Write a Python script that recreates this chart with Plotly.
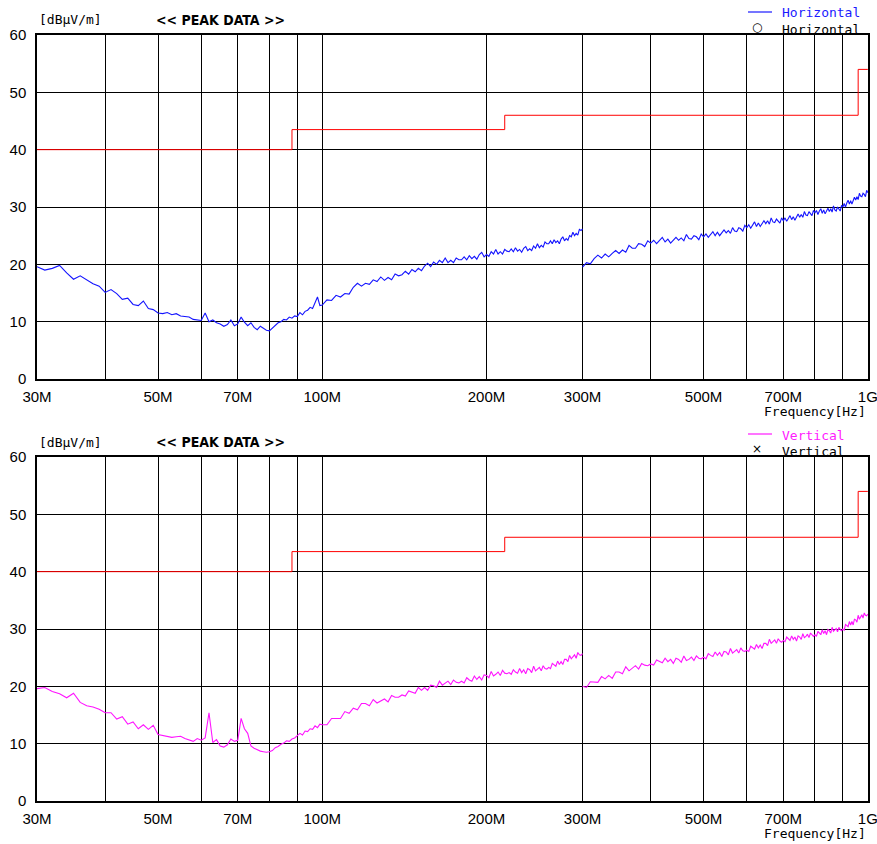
import plotly.graph_objects as go
from plotly.subplots import make_subplots

# ---------------- data (MHz / dBuV/m) ----------------
LIMIT_F = [30, 88, 216, 960, 1000]
LIMIT_DB = [40, 43.5, 46, 54, 54]

# sweep grids
FREQ_A = list(range(30, 101))                      # 30..100 MHz, 1 MHz step
FREQ_B = list(range(100, 301, 2))                  # 100..300 MHz, 2 MHz step
FREQ_C = list(range(300, 1001, 5))                 # 300..1000 MHz, 5 MHz step

H_A = [19.6, 19.0, 19.3, 19.8, 18.5, 17.4, 18.0, 17.3, 16.6, 16.2,
       15.1, 15.6, 14.9, 13.9, 14.1, 13.0, 12.8, 13.6, 12.3, 12.1,
       11.5, 11.4, 11.6, 11.2, 11.4, 11.0, 10.9, 10.8, 10.4, 10.3,
       10.2, 11.5, 10.0, 10.3, 9.8, 9.6, 9.2, 9.5, 10.3, 9.3,
       9.6, 10.8, 9.9, 9.3, 9.8, 9.0, 8.6, 9.2, 8.8, 8.5,
       8.4, 8.9, 9.3, 9.8, 10.0, 10.4, 10.3, 10.8, 10.6, 11.0,
       10.9, 11.6, 11.2, 11.8, 12.0, 12.5, 12.3, 13.2, 14.3, 12.8,
       13.0]
H_B = [12.9, 13.8, 13.7, 14.6, 14.3, 14.9, 14.8, 16.0, 16.7, 16.2,
       16.7, 16.5, 17.3, 17.0, 17.8, 17.2, 17.7, 17.3, 18.3, 18.0,
       18.2, 18.8, 18.3, 19.1, 18.7, 19.3, 18.9, 19.7, 20.2, 19.6,
       20.4, 20.0, 20.7, 20.3, 21.1, 20.3, 20.7, 20.3, 21.1, 20.8,
       20.8, 21.3, 20.8, 21.5, 21.0, 21.4, 20.9, 21.7, 22.1, 21.3,
       21.7, 21.4, 22.2, 21.8, 22.6, 21.8, 22.2, 21.8, 22.6, 22.3,
       22.2, 22.7, 22.2, 22.9, 22.3, 22.6, 22.1, 22.8, 23.1, 22.4,
       22.7, 22.4, 23.2, 22.8, 23.6, 22.9, 23.3, 23.0, 23.9, 23.6,
       23.6, 24.1, 23.6, 24.3, 23.8, 24.1, 23.6, 24.4, 24.8, 24.1,
       24.5, 24.2, 25.0, 24.8, 25.6, 25.0, 25.4, 25.1, 26.1, 25.9,
       26.2]
H_C = [19.5, 20.3, 20.1, 21.0, 21.6, 21.1, 21.8, 21.3, 21.9, 22.4,
       21.9, 22.5, 22.1, 23.3, 22.8, 22.8, 23.6, 23.5, 23.1, 24.1,
       23.7, 24.2, 23.6, 24.2, 24.7, 23.9, 24.4, 23.7, 24.2, 24.7,
       24.2, 24.6, 24.1, 25.2, 24.5, 24.4, 25.0, 24.8, 24.3, 25.3,
       24.8, 25.3, 24.7, 25.3, 25.7, 25.0, 25.6, 25.0, 25.5, 26.0,
       25.5, 25.9, 25.4, 26.4, 25.8, 25.7, 26.4, 26.2, 25.8, 26.8,
       26.4, 26.9, 26.3, 26.9, 27.4, 26.6, 27.2, 26.6, 27.2, 27.6,
       27.1, 27.6, 27.0, 28.1, 27.4, 27.3, 27.9, 27.6, 27.2, 28.1,
       27.6, 28.1, 27.5, 28.0, 28.5, 27.8, 28.3, 27.7, 28.3, 28.8,
       28.2, 28.7, 28.2, 29.2, 28.6, 28.5, 29.2, 28.9, 28.5, 29.4,
       29.0, 29.4, 28.7, 29.3, 29.7, 28.9, 29.5, 28.8, 29.3, 29.8,
       29.2, 29.7, 29.1, 30.2, 29.5, 29.3, 30.0, 29.7, 29.3, 30.3,
       30.0, 30.6, 30.0, 30.7, 31.2, 30.5, 31.1, 30.5, 31.1, 31.7,
       31.2, 31.8, 31.3, 32.4, 31.9, 31.8, 32.4, 32.2, 31.8, 32.9,
       32.5]

V_A = [19.6, 19.8, 19.1, 18.7, 18.0, 18.8, 17.2, 16.6, 16.4, 16.0,
       15.4, 15.4, 14.3, 14.7, 13.4, 13.8, 12.6, 13.3, 12.5, 13.2,
       11.6, 11.4, 11.3, 11.1, 11.2, 11.3, 10.9, 10.7, 10.4, 10.9,
       10.6, 11.0, 15.4, 10.2, 10.7, 9.6, 9.4, 9.8, 10.8, 10.4,
       10.6, 14.4, 12.6, 11.8, 9.6, 9.2, 8.9, 8.7, 8.6, 8.5,
       8.6, 8.8, 9.3, 9.5, 9.9, 10.1, 10.5, 10.4, 10.8, 11.0,
       11.4, 11.8, 11.5, 12.2, 12.1, 12.6, 12.5, 13.1, 12.8, 13.4,
       13.3]
V_B = [13.3, 13.3, 14.4, 14.4, 14.4, 15.6, 15.3, 16.2, 15.9, 17.0,
       17.0, 16.6, 17.7, 17.1, 17.4, 17.8, 17.3, 18.4, 18.1, 18.1,
       18.5, 18.3, 19.2, 19.0, 18.8, 19.8, 19.3, 19.8, 19.3, 20.2,
       20.1, 19.8, 20.9, 20.2, 20.5, 20.9, 20.3, 21.1, 20.7, 20.6,
       20.9, 20.6, 21.5, 21.1, 20.9, 21.8, 21.2, 21.7, 21.1, 22.0,
       21.9, 21.5, 22.6, 21.8, 22.1, 22.5, 21.9, 22.8, 22.3, 22.2,
       22.4, 22.1, 22.9, 22.5, 22.3, 23.1, 22.4, 22.9, 22.2, 23.1,
       22.9, 22.4, 23.5, 22.7, 23.0, 23.3, 22.7, 23.6, 23.1, 23.0,
       23.3, 23.1, 24.0, 23.7, 23.5, 24.4, 23.8, 24.3, 23.8, 24.7,
       24.7, 24.3, 25.4, 24.8, 25.1, 25.5, 24.9, 25.9, 25.5, 25.4,
       25.7]
V_C = [20.0, 19.8, 20.8, 20.7, 20.7, 21.7, 21.3, 21.9, 21.4, 22.5,
       22.5, 22.2, 23.4, 22.7, 23.1, 23.6, 23.0, 24.0, 23.7, 23.6,
       23.9, 23.7, 24.6, 24.3, 24.1, 24.9, 24.3, 24.7, 24.0, 24.9,
       24.7, 24.2, 25.3, 24.5, 24.7, 25.1, 24.5, 25.3, 24.9, 24.8,
       25.1, 24.8, 25.7, 25.4, 25.2, 26.0, 25.4, 25.9, 25.2, 26.1,
       26.0, 25.5, 26.6, 25.8, 26.1, 26.4, 25.8, 26.7, 26.2, 26.1,
       26.3, 26.1, 27.0, 26.7, 26.5, 27.3, 26.7, 27.2, 26.6, 27.5,
       27.5, 27.1, 28.2, 27.5, 27.8, 28.1, 27.5, 28.3, 27.9, 27.7,
       28.0, 27.8, 28.6, 28.3, 28.0, 28.8, 28.2, 28.6, 27.9, 28.8,
       28.6, 28.2, 29.2, 28.5, 28.7, 29.1, 28.5, 29.3, 28.9, 28.7,
       29.0, 28.7, 29.6, 29.3, 29.0, 29.9, 29.2, 29.7, 29.0, 29.9,
       29.7, 29.3, 30.3, 29.6, 29.8, 30.1, 29.5, 30.3, 29.9, 29.7,
       30.0, 29.8, 30.8, 30.5, 30.4, 31.3, 30.7, 31.3, 30.7, 31.7,
       31.6, 31.2, 32.4, 31.7, 32.1, 32.5, 31.9, 32.8, 32.4, 32.3,
       32.6]

GRID_F = [30, 40, 50, 60, 70, 80, 90, 100, 200, 300, 400, 500, 600, 700, 800, 900, 1000]
GRID_LABELS = ["30M", "", "50M", "", "70M", "", "", "100M", "200M", "300M", "", "500M", "", "700M", "", "", "1G"]
Y_TICKS = [0, 10, 20, 30, 40, 50, 60]


def join(fa, va, fb, vb, fc, vc):
    n_a = min(len(fa), len(va))
    n_b = min(len(fb), len(vb))
    n_c = min(len(fc), len(vc))
    x = list(fa[:n_a - 1]) + list(fb[:n_b]) + [None] + list(fc[:n_c])
    y = list(va[:n_a - 1]) + list(vb[:n_b]) + [None] + list(vc[:n_c])
    return x, y


hx, hy = join(FREQ_A, H_A, FREQ_B, H_B, FREQ_C, H_C)
vx, vy = join(FREQ_A, V_A, FREQ_B, V_B, FREQ_C, V_C)

W, H = 877, 844
L, R, T, B = 37, 9, 35, 43
pw, ph = W - L - R, H - T - B

fig = make_subplots(rows=2, cols=1, vertical_spacing=0.1018)
fig.update_layout(
    width=W, height=H,
    margin=dict(l=L, r=R, t=T, b=B, autoexpand=False),
    paper_bgcolor="white", plot_bgcolor="white",
    showlegend=False,
)
fig.layout.yaxis.domain = [(H - B - 379) / ph, 1.0]
fig.layout.yaxis2.domain = [0.0, (H - B - 457) / ph]

for row, (x, y, col) in enumerate([(hx, hy, "#1414ff"), (vx, vy, "#ff14ff")], start=1):
    fig.add_trace(go.Scatter(x=LIMIT_F, y=LIMIT_DB, mode="lines", line=dict(color="#ff0000", width=1, shape="hv"),
                             hoverinfo="skip"), row=row, col=1)
    fig.add_trace(go.Scatter(x=x, y=y, mode="lines", line=dict(color=col, width=1.1),
                             connectgaps=False), row=row, col=1)

tickfont = dict(family="Liberation Sans, Arial, sans-serif", size=15, color="black")
for r in (1, 2):
    fig.update_xaxes(type="log", range=[1.4771213, 3.0003], tickvals=GRID_F, ticktext=GRID_LABELS,
                     showgrid=True, gridcolor="#000000", gridwidth=1, showline=True, linecolor="black",
                     linewidth=1.5, mirror=True, ticks="", tickfont=tickfont, zeroline=False,
                     ticklabelstandoff=3, automargin=False, ticklabeloverflow="allow", row=r, col=1)
    fig.update_yaxes(range=[0, 60], tickvals=Y_TICKS, showgrid=True, gridcolor="#000000", gridwidth=1,
                     showline=True, linecolor="black", linewidth=1.5, mirror=True, ticks="",
                     tickfont=tickfont, zeroline=False, ticklabelstandoff=6, automargin=False, row=r, col=1)

mono = "DejaVu Sans Mono, Liberation Mono, monospace"
ann = []
for top, name, col, sym in [(0, "Horizontal", "#1a1aff", "○"), (422, "Vertical", "#ff1aff", "×")]:
    ann.append(dict(x=37, y=20 + top, text="[dBμV/m]", font=dict(family=mono, size=13, color="black")))
    ann.append(dict(x=154, y=20 + top, text="<b><< PEAK DATA >></b>",
                    font=dict(family="DejaVu Sans Condensed, DejaVu Sans, sans-serif", size=14, color="black")))
    ann.append(dict(x=780, y=13 + top, text=name, font=dict(family=mono, size=13, color=col)))
    ann.append(dict(x=780, y=29 + top, text=name, font=dict(family=mono, size=13, color="black")))
    ann.append(dict(x=757, y=27 + top, text=sym, font=dict(family="DejaVu Sans, sans-serif", size=12, color="black"),
                    xanchor="center"))
    ann.append(dict(x=868, y=411 + top, text="Frequency[Hz]", font=dict(family=mono, size=13, color="black"),
                    xanchor="right"))

for a in ann:
    fig.add_annotation(x=(a["x"] - L) / pw, y=1 - (a["y"] - T) / ph, xref="paper", yref="paper", text=a["text"],
                       showarrow=False, xanchor=a.get("xanchor", "left"), yanchor="middle", font=a["font"])

# legend line samples
for top, col in [(0, "#1a1aff"), (422, "#ff1aff")]:
    yy = 1 - (12 + top - T) / ph
    fig.add_shape(type="line", xref="paper", yref="paper",
                  x0=(748 - L) / pw, x1=(772 - L) / pw, y0=yy, y1=yy,
                  line=dict(color=col, width=1.2))

fig.write_html("out.html")
